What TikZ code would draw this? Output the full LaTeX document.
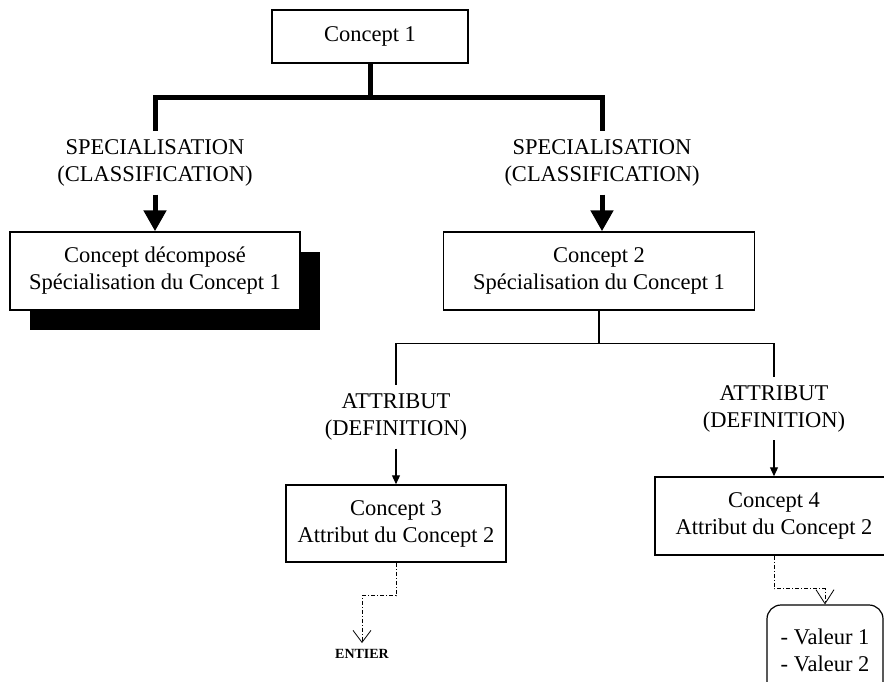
\documentclass[tikz,border=0pt]{standalone}
\usepackage{fontspec}
\setmainfont{Liberation Serif}
\usetikzlibrary{arrows.meta,shadows}

\begin{document}
\begin{tikzpicture}[x=1pt,y=-1pt,
        every node/.style={font=\fontsize{22.5}{27}\selectfont},
        concept/.style={draw,line width=1.5pt,align=center,inner sep=0pt,minimum height=78pt},
        link/.style={align=center,inner xsep=0pt,inner ysep=8pt},
        bigarrow/.style={line width=5pt},
        smallarrow/.style={line width=1.2pt},
        valarrow/.style={line width=0.8pt,dash pattern=on 4pt off 2pt on 1pt off 2pt}]
        \useasboundingbox (0,0) rectangle (884,681);

        % Concepts
        \node[concept,minimum width=196pt,minimum height=53pt] (c1) at (370,36.5) {Concept 1};
        \node[concept,minimum width=290pt,fill=white,
            drop shadow={shadow xshift=20pt,shadow yshift=-20pt,opacity=1,fill=black}]
            (decomp) at (155,271) {Concept décomposé\\Spécialisation du Concept 1};
        \node[concept,minimum width=311pt] (c2) at (599,271) {Concept 2\\Spécialisation du Concept 1};
        \node[concept,minimum width=220pt,minimum height=77pt] (c3) at (396,523.5) {Concept 3\\Attribut du Concept 2};
        \node[concept,minimum width=238pt] (c4) at (774,516) {Concept 4\\Attribut du Concept 2};
        \node[draw,line width=1.2pt,rounded corners=14pt,align=left,minimum width=116pt,
            minimum height=90pt] (valeurs) at (825,650) {- Valeur 1\\- Valeur 2};

        % Link labels
        \node[link] (specL) at (155,163) {SPECIALISATION\\(CLASSIFICATION)};
        \node[link] (specR) at (602,163) {SPECIALISATION\\(CLASSIFICATION)};
        \node[link] (attr3) at (396,417) {ATTRIBUT\\(DEFINITION)};
        \node[link] (attr4) at (774,408.5) {ATTRIBUT\\(DEFINITION)};
        \node[font=\fontsize{14}{16}\selectfont\bfseries,inner sep=0pt,anchor=north] (entier) at (362,649) {ENTIER};
        \coordinate (entiertip) at (362,643);

        % Specialisation
        \draw[bigarrow] (c1.south) -- ++(0,34) -| (specL.north);
        \draw[bigarrow] (c1.south) -- ++(0,34) -| (specR.north);
        \draw[bigarrow,-{Triangle[width=22pt,length=21pt]}] (specL.south) -- (decomp.north);
        \draw[bigarrow,-{Triangle[width=22pt,length=21pt]}] (specR.south) -- (specR.south |- c2.north);

        % Attributs
        \draw[smallarrow] (c2.south) -- ++(0,32.5) -| (attr3.north);
        \draw[smallarrow] (c2.south) -- ++(0,32.5) -| (attr4.north);
        \draw[smallarrow,-{Triangle[width=8pt,length=9pt]}] (attr3.south) -- (c3.north);
        \draw[smallarrow,-{Triangle[width=8pt,length=9pt]}] (attr4.south) -- (c4.north);

        % Valeurs
        \draw[valarrow,-{Straight Barb[width=18pt,length=12pt]}] (c3.south) -- ++(0,33) -| (entiertip);
        \draw[valarrow,-{Straight Barb[width=18pt,length=14pt]}] (c4.south) -- ++(0,33) -| (valeurs.north);
\end{tikzpicture}
\end{document}
